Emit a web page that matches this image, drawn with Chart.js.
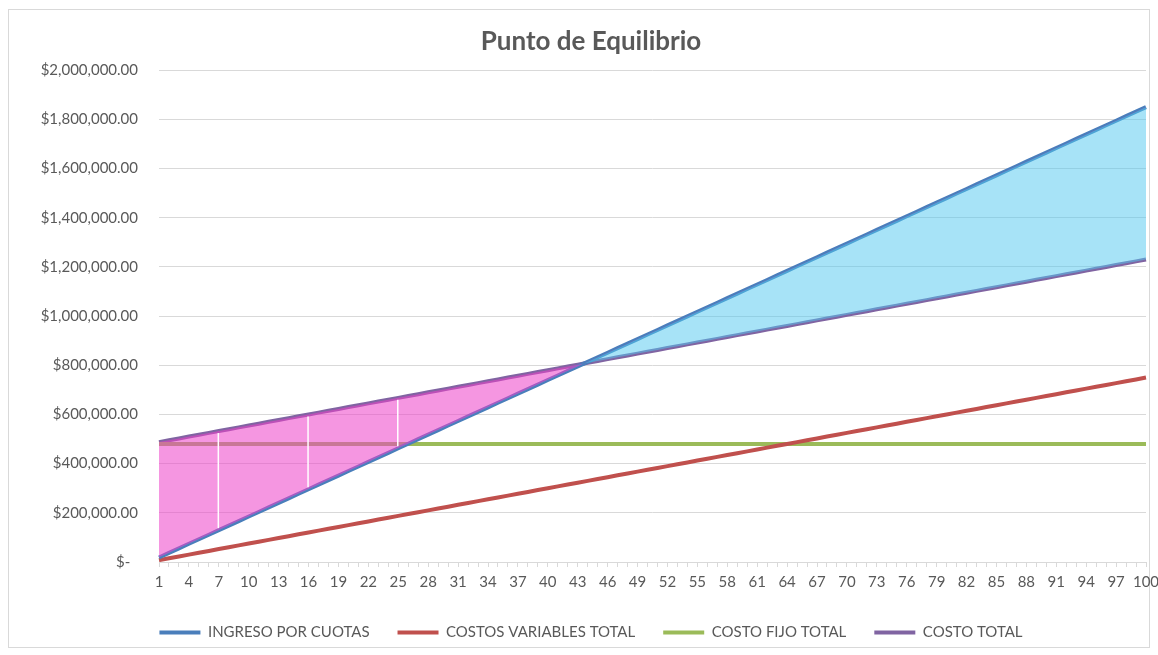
<!DOCTYPE html>
<html lang="es">
<head>
  <meta charset="UTF-8">
  <title>Punto de Equilibrio</title>
  <script src="https://cdn.jsdelivr.net/npm/chart.js"></script>
  <style>
    html, body { margin: 0; padding: 0; background: #fff; }
    .chart-container { position: relative; width: 1158px; height: 655px; }
  </style>
</head>
<body>
  <div class="chart-container">
    <canvas id="equilibrioChart"></canvas>
  </div>

  <script>
    // Unidades vendidas (eje X)
    const unidades = [
      1, 2, 3, 4, 5, 6, 7, 8, 9, 10,
      11, 12, 13, 14, 15, 16, 17, 18, 19, 20,
      21, 22, 23, 24, 25, 26, 27, 28, 29, 30,
      31, 32, 33, 34, 35, 36, 37, 38, 39, 40,
      41, 42, 43, 44, 45, 46, 47, 48, 49, 50,
      51, 52, 53, 54, 55, 56, 57, 58, 59, 60,
      61, 62, 63, 64, 65, 66, 67, 68, 69, 70,
      71, 72, 73, 74, 75, 76, 77, 78, 79, 80,
      81, 82, 83, 84, 85, 86, 87, 88, 89, 90,
      91, 92, 93, 94, 95, 96, 97, 98, 99, 100
    ];

    const ingresoPorCuotas = [
      18500, 37000, 55500, 74000, 92500, 111000, 129500, 148000, 166500, 185000,
      203500, 222000, 240500, 259000, 277500, 296000, 314500, 333000, 351500, 370000,
      388500, 407000, 425500, 444000, 462500, 481000, 499500, 518000, 536500, 555000,
      573500, 592000, 610500, 629000, 647500, 666000, 684500, 703000, 721500, 740000,
      758500, 777000, 795500, 814000, 832500, 851000, 869500, 888000, 906500, 925000,
      943500, 962000, 980500, 999000, 1017500, 1036000, 1054500, 1073000, 1091500, 1110000,
      1128500, 1147000, 1165500, 1184000, 1202500, 1221000, 1239500, 1258000, 1276500, 1295000,
      1313500, 1332000, 1350500, 1369000, 1387500, 1406000, 1424500, 1443000, 1461500, 1480000,
      1498500, 1517000, 1535500, 1554000, 1572500, 1591000, 1609500, 1628000, 1646500, 1665000,
      1683500, 1702000, 1720500, 1739000, 1757500, 1776000, 1794500, 1813000, 1831500, 1850000
    ];

    const costosVariables = [
      7500, 15000, 22500, 30000, 37500, 45000, 52500, 60000, 67500, 75000,
      82500, 90000, 97500, 105000, 112500, 120000, 127500, 135000, 142500, 150000,
      157500, 165000, 172500, 180000, 187500, 195000, 202500, 210000, 217500, 225000,
      232500, 240000, 247500, 255000, 262500, 270000, 277500, 285000, 292500, 300000,
      307500, 315000, 322500, 330000, 337500, 345000, 352500, 360000, 367500, 375000,
      382500, 390000, 397500, 405000, 412500, 420000, 427500, 435000, 442500, 450000,
      457500, 465000, 472500, 480000, 487500, 495000, 502500, 510000, 517500, 525000,
      532500, 540000, 547500, 555000, 562500, 570000, 577500, 585000, 592500, 600000,
      607500, 615000, 622500, 630000, 637500, 645000, 652500, 660000, 667500, 675000,
      682500, 690000, 697500, 705000, 712500, 720000, 727500, 735000, 742500, 750000
    ];

    const costoFijo = [
      480000, 480000, 480000, 480000, 480000, 480000, 480000, 480000, 480000, 480000,
      480000, 480000, 480000, 480000, 480000, 480000, 480000, 480000, 480000, 480000,
      480000, 480000, 480000, 480000, 480000, 480000, 480000, 480000, 480000, 480000,
      480000, 480000, 480000, 480000, 480000, 480000, 480000, 480000, 480000, 480000,
      480000, 480000, 480000, 480000, 480000, 480000, 480000, 480000, 480000, 480000,
      480000, 480000, 480000, 480000, 480000, 480000, 480000, 480000, 480000, 480000,
      480000, 480000, 480000, 480000, 480000, 480000, 480000, 480000, 480000, 480000,
      480000, 480000, 480000, 480000, 480000, 480000, 480000, 480000, 480000, 480000,
      480000, 480000, 480000, 480000, 480000, 480000, 480000, 480000, 480000, 480000,
      480000, 480000, 480000, 480000, 480000, 480000, 480000, 480000, 480000, 480000
    ];

    const costoTotal = [
      487500, 495000, 502500, 510000, 517500, 525000, 532500, 540000, 547500, 555000,
      562500, 570000, 577500, 585000, 592500, 600000, 607500, 615000, 622500, 630000,
      637500, 645000, 652500, 660000, 667500, 675000, 682500, 690000, 697500, 705000,
      712500, 720000, 727500, 735000, 742500, 750000, 757500, 765000, 772500, 780000,
      787500, 795000, 802500, 810000, 817500, 825000, 832500, 840000, 847500, 855000,
      862500, 870000, 877500, 885000, 892500, 900000, 907500, 915000, 922500, 930000,
      937500, 945000, 952500, 960000, 967500, 975000, 982500, 990000, 997500, 1005000,
      1012500, 1020000, 1027500, 1035000, 1042500, 1050000, 1057500, 1065000, 1072500, 1080000,
      1087500, 1095000, 1102500, 1110000, 1117500, 1125000, 1132500, 1140000, 1147500, 1155000,
      1162500, 1170000, 1177500, 1185000, 1192500, 1200000, 1207500, 1215000, 1222500, 1230000
    ];

    // cortes blancos dentro de la zona de pérdida
    const cortesPerdida = [7, 16, 25];

    const textColor = '#595959';
    const gridColor = '#d9d9d9';
    const font = 'Lato';

    function formatoMoneda(v) {
      if (v === 0) return '$-  ';
      return '$' + v.toLocaleString('en-US', { minimumFractionDigits: 2, maximumFractionDigits: 2 });
    }

    // marco exterior del gráfico
    const marco = {
      id: 'marco',
      beforeDraw(chart) {
        const ctx = chart.ctx;
        ctx.save();
        ctx.fillStyle = '#ffffff';
        ctx.fillRect(0, 0, chart.width, chart.height);
        ctx.strokeStyle = gridColor;
        ctx.lineWidth = 1;
        ctx.strokeRect(8.5, 9.5, 1141, 638);
        ctx.restore();
      }
    };

    // líneas blancas verticales en la zona rosa
    const cortes = {
      id: 'cortes',
      afterDatasetsDraw(chart) {
        const ctx = chart.ctx;
        const x = chart.scales.x;
        const y = chart.scales.y;
        ctx.save();
        ctx.strokeStyle = '#ffffff';
        ctx.lineWidth = 1.5;
        cortesPerdida.forEach(u => {
          const i = unidades.indexOf(u);
          const px = x.getPixelForValue(i - 0.05);
          ctx.beginPath();
          ctx.moveTo(px, y.getPixelForValue(costoTotal[i]) + 2);
          ctx.lineTo(px, y.getPixelForValue(ingresoPorCuotas[i]) - 2);
          ctx.stroke();
        });
        ctx.restore();
      }
    };

    const ctx = document.getElementById('equilibrioChart').getContext('2d');
    const chart = new Chart(ctx, {
      type: 'line',
      data: {
        labels: unidades,
        datasets: [
          {
            label: 'INGRESO POR CUOTAS',
            data: ingresoPorCuotas,
            borderColor: '#4a7ebb',
            backgroundColor: '#4a7ebb',
            borderWidth: 4,
            pointRadius: 0,
            fill: false
          },
          {
            label: 'COSTOS VARIABLES TOTAL',
            data: costosVariables,
            borderColor: '#c0504d',
            backgroundColor: '#c0504d',
            borderWidth: 4,
            pointRadius: 0,
            fill: false
          },
          {
            label: 'COSTO FIJO TOTAL',
            data: costoFijo,
            borderColor: '#9bbb59',
            backgroundColor: '#9bbb59',
            borderWidth: 4,
            pointRadius: 0,
            fill: false
          },
          {
            label: 'COSTO TOTAL',
            data: costoTotal,
            borderColor: '#8064a2',
            backgroundColor: '#8064a2',
            borderWidth: 4,
            pointRadius: 0,
            fill: false
          },
          {
            // relleno entre costo total e ingreso, dibujado encima de las líneas
            label: 'zona',
            data: costoTotal,
            borderColor: 'transparent',
            borderWidth: 1,
            pointRadius: 0,
            order: -1,
            fill: {
              target: 0,
              above: 'rgba(236, 64, 200, 0.55)',
              below: 'rgba(80, 200, 240, 0.5)'
            }
          }
        ]
      },
      options: {
        responsive: true,
        maintainAspectRatio: false,
        animation: false,
        events: [],
        layout: {
          padding: { left: 24, right: 0, top: 10, bottom: 5 }
        },
        plugins: {
          title: {
            display: true,
            text: 'Punto de Equilibrio',
            color: textColor,
            font: { family: font, size: 26, weight: 'bold' },
            padding: { top: 16, bottom: 13 }
          },
          legend: {
            position: 'bottom',
            labels: {
              color: textColor,
              font: { family: font, size: 15 },
              usePointStyle: true,
              pointStyle: 'line',
              pointStyleWidth: 41,
              padding: 28,
              filter: item => item.datasetIndex < 4
            }
          },
          tooltip: { enabled: false }
        },
        scales: {
          x: {
            afterFit: s => { s.paddingRight = 12; },
            grid: {
              drawOnChartArea: false,
              drawTicks: true,
              tickLength: 5,
              color: gridColor
            },
            border: { color: gridColor },
            ticks: {
              autoSkip: false,
              minRotation: 0,
              maxRotation: 0,
              padding: 6,
              color: textColor,
              font: { family: font, size: 15 },
              callback: (v, i) => i % 3 === 0 ? unidades[i] : ''
            }
          },
          y: {
            min: 0,
            max: 2000000,
            afterFit: s => { s.width = 135; },
            grid: {
              color: gridColor,
              drawTicks: false
            },
            border: { display: false },
            ticks: {
              stepSize: 200000,
              padding: 21,
              color: textColor,
              font: { family: font, size: 15 },
              callback: v => formatoMoneda(v)
            }
          }
        }
      },
      plugins: [marco, cortes]
    });
  </script>
</body>
</html>
